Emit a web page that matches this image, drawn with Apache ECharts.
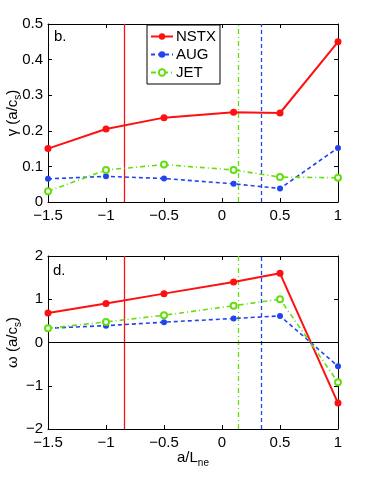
<!DOCTYPE html>
<html>
<head>
<meta charset="utf-8">
<script src="https://cdn.jsdelivr.net/npm/echarts@6/dist/echarts.min.js"></script>
<style>
html, body { margin: 0; padding: 0; background: #fff; }
#chart { width: 374px; height: 478px; }
</style>
</head>
<body>
<div id="chart"></div>
<script>
// 数据
var xVals = [-1.5, -1, -0.5, 0.1, 0.5, 1];
var gammaNSTX = [0.15, 0.205, 0.237, 0.252, 0.25, 0.45];
var gammaAUG = [0.065, 0.072, 0.066, 0.051, 0.038, 0.152];
var gammaJET = [0.03, 0.09, 0.105, 0.09, 0.07, 0.068];
var omegaNSTX = [0.68, 0.9, 1.13, 1.4, 1.6, -1.4];
var omegaAUG = [0.33, 0.39, 0.47, 0.555, 0.615, -0.55];
var omegaJET = [0.33, 0.476, 0.63, 0.85, 1.0, -0.92];
// 竖线位置
var vlineNSTX = -0.845;
var vlineJET = 0.135;
var vlineAUG = 0.336;

var RED = '#ff1010', BLUE = '#2244ee', GREEN = '#66dd11';
var FONT = 'Liberation Sans';

function pairs(ys) {
    return xVals.map(function (x, i) { return [x, ys[i]]; });
}
function minus(v) { return String(v).replace('-', '\u2212'); }

var chart = echarts.init(document.getElementById('chart'));

var subRich = { sub: { fontSize: 10, padding: [10, 0, 0, 0], fontFamily: FONT, color: '#000' } };

function xAxisCfg(gi) {
    return {
        type: 'value', gridIndex: gi, min: -1.5, max: 1, interval: 0.5,
        axisLine: { onZero: false, lineStyle: { color: '#000' } },
        axisTick: { inside: true, length: 4, lineStyle: { color: '#000' } },
        axisLabel: { color: '#000', fontSize: 15, fontFamily: FONT, margin: 6, formatter: minus },
        splitLine: { show: false }
    };
}
function xTopCfg(gi) {
    return {
        type: 'value', gridIndex: gi, position: 'top', min: -1.5, max: 1, interval: 0.5,
        axisLine: { show: true, onZero: false, lineStyle: { color: '#000' } },
        axisTick: { inside: true, length: 4, lineStyle: { color: '#000' } },
        axisLabel: { show: false }, splitLine: { show: false }
    };
}
function yLeftCfg(gi, min, max, interval, name) {
    return {
        type: 'value', gridIndex: gi, min: min, max: max, interval: interval,
        name: name, nameLocation: 'middle', nameGap: 25, nameRotate: 90, nameMoveOverlap: false,
        nameTextStyle: { fontSize: 15, color: '#000', fontFamily: FONT, rich: subRich },
        axisLine: { show: true, onZero: false, lineStyle: { color: '#000' } },
        axisTick: { show: true, inside: true, length: 4, lineStyle: { color: '#000' } },
        axisLabel: { color: '#000', fontSize: 15, fontFamily: FONT, margin: 5, formatter: minus },
        splitLine: { show: false }
    };
}
function yRightCfg(gi, min, max, interval) {
    return {
        type: 'value', gridIndex: gi, position: 'right', min: min, max: max, interval: interval,
        axisLine: { show: true, onZero: false, lineStyle: { color: '#000' } },
        axisTick: { show: true, inside: true, length: 4, lineStyle: { color: '#000' } },
        axisLabel: { show: false }, splitLine: { show: false }
    };
}

function vline(x, color, type, xi, yi) {
    return {
        type: 'line', xAxisIndex: xi, yAxisIndex: yi, data: [], silent: true,
        markLine: {
            symbol: 'none', silent: true, label: { show: false },
            lineStyle: { color: color, type: type, width: 1.3 },
            data: [{ xAxis: x }]
        }
    };
}

function seriesCfg(name, ys, gi) {
    var s = {
        name: name, type: 'line', xAxisIndex: gi, yAxisIndex: gi, data: pairs(ys), z: 5
    };
    if (name === 'NSTX') {
        s.symbol = 'circle'; s.symbolSize = 7;
        s.lineStyle = { width: 2, color: RED };
        s.itemStyle = { color: RED };
    } else if (name === 'AUG') {
        s.symbol = 'circle'; s.symbolSize = 6;
        s.lineStyle = { width: 1.6, color: BLUE, type: [4, 3] };
        s.itemStyle = { color: BLUE };
    } else {
        s.symbol = 'emptyCircle'; s.symbolSize = 6;
        s.lineStyle = { width: 1.6, color: GREEN, type: [5, 3, 1, 3] };
        s.itemStyle = { color: GREEN, borderWidth: 1.6 };
    }
    return s;
}

var option = {
    animation: false,
    textStyle: { fontFamily: FONT },
    grid: [
        { left: 48, top: 24, width: 290, height: 178, outerBoundsMode: 'none' },
        { left: 48, top: 256, width: 290, height: 173, outerBoundsMode: 'none' }
    ],
    legend: {
        data: ['NSTX', 'AUG', 'JET'],
        orient: 'vertical', left: 147, top: 25,
        itemWidth: 22, itemHeight: 8, itemGap: 3,
        padding: [4, 4, 4, 3],
        borderColor: '#000', borderWidth: 1, backgroundColor: '#fff',
        textStyle: { fontSize: 15, color: '#000', fontFamily: FONT, padding: [0, 0, 0, -2] }
    },
    xAxis: [
        xAxisCfg(0),
        Object.assign(xAxisCfg(1), {
            name: 'a/L{sub|ne}', nameLocation: 'middle', nameGap: 19, nameMoveOverlap: false,
            nameTextStyle: { fontSize: 15, color: '#000', fontFamily: FONT, rich: subRich }
        }),
        xTopCfg(0),
        xTopCfg(1)
    ],
    yAxis: [
        yLeftCfg(0, 0, 0.5, 0.1, '\u03b3 (a/c{sub|s})'),
        yLeftCfg(1, -2, 2, 1, '\u03c9 (a/c{sub|s})'),
        yRightCfg(0, 0, 0.5, 0.1),
        yRightCfg(1, -2, 2, 1)
    ],
    graphic: [
        { type: 'text', left: 54, top: 29, style: { text: 'b.', fontSize: 15, fontFamily: FONT, fill: '#000' } },
        { type: 'text', left: 53, top: 263, style: { text: 'd.', fontSize: 15, fontFamily: FONT, fill: '#000' } }
    ],
    series: [
        vline(vlineNSTX, RED, 'solid', 0, 0),
        vline(vlineJET, GREEN, [5, 3, 1, 3], 0, 0),
        vline(vlineAUG, BLUE, [4, 3], 0, 0),
        vline(vlineNSTX, RED, 'solid', 1, 1),
        vline(vlineJET, GREEN, [5, 3, 1, 3], 1, 1),
        vline(vlineAUG, BLUE, [4, 3], 1, 1),
        {
            type: 'line', xAxisIndex: 1, yAxisIndex: 1, data: [], silent: true,
            markLine: { symbol: 'none', silent: true, label: { show: false },
                lineStyle: { color: '#000', type: 'solid', width: 1 }, data: [{ yAxis: 0 }] }
        },
        seriesCfg('NSTX', gammaNSTX, 0),
        seriesCfg('AUG', gammaAUG, 0),
        seriesCfg('JET', gammaJET, 0),
        seriesCfg('NSTX', omegaNSTX, 1),
        seriesCfg('AUG', omegaAUG, 1),
        seriesCfg('JET', omegaJET, 1)
    ]
};

chart.setOption(option);
</script>
</body>
</html>
